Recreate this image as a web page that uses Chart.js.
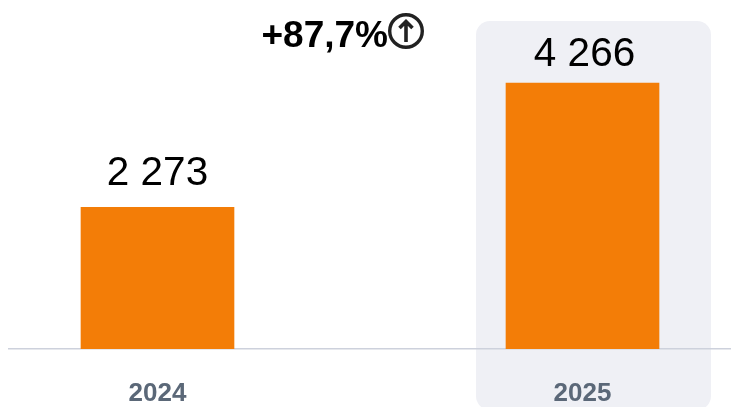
<!DOCTYPE html>
<html><head><meta charset="utf-8">
<script src="https://cdn.jsdelivr.net/npm/chart.js@4"></script>
<style>html,body{margin:0;padding:0;background:#fff;overflow:hidden}#w{position:relative;width:731px;height:407px}canvas{display:block}</style>
</head><body><div id="w"><canvas id="c" width="731" height="407"></canvas></div>
<script>
const categories = [2024, 2025];
const values = [2273, 4266];
const valueLabels = ['2 273', '4 266'];
const changeLabel = '+87,7%';
const highlighted = 2025;

const decor = {
  id: 'decor',
  beforeDraw(chart) {
    const c = chart.ctx, px = chart.scales.x.getPixelForValue(highlighted);
    c.save();
    c.fillStyle = '#eff0f5';
    c.beginPath();
    c.roundRect(px - 106.5, 21, 235, 389, 14);
    c.fill();
    c.restore();
  },
  afterDatasetsDraw(chart) {
    const c = chart.ctx, meta = chart.getDatasetMeta(0);
    const gaps = [22, 17], shifts = [0, 2];
    c.save();
    c.fillStyle = '#000';
    c.textAlign = 'center';
    c.textBaseline = 'alphabetic';
    c.font = '40.5px "Liberation Sans"';
    meta.data.forEach((el, i) => c.fillText(valueLabels[i], el.x + shifts[i], el.y - gaps[i]));
    c.font = 'bold 37px "Liberation Sans"';
    c.textAlign = 'left';
    c.fillText(changeLabel, 261.5, 47);
    c.strokeStyle = '#222';
    c.lineWidth = 3.4;
    c.beginPath(); c.arc(406, 31, 16.3, 0, Math.PI * 2); c.stroke();
    c.lineWidth = 3.6;
    c.beginPath(); c.moveTo(406, 42); c.lineTo(406, 22);
    c.moveTo(399.5, 28); c.lineTo(406, 21.5); c.lineTo(412.5, 28); c.stroke();
    c.restore();
  }
};

new Chart(document.getElementById('c'), {
  type: 'bar',
  data: { datasets: [{
    data: categories.map((x, i) => ({ x, y: values[i] })),
    backgroundColor: '#f37d07',
    borderWidth: 0,
    barThickness: 153
  }]},
  options: {
    responsive: false,
    animation: false,
    layout: { padding: { left: 9, right: 0, top: 0, bottom: 0 } },
    plugins: { legend: { display: false }, tooltip: { enabled: false } },
    scales: {
      x: {
        type: 'linear',
        offset: false,
        min: 2024 - 0.3494,
        max: 2025 + 0.3494,
        grid: { display: false, drawTicks: false },
        border: { display: true, color: '#cdd1dc', width: 1.5 },
        afterFit(s) { s.height = 58; },
        ticks: {
          stepSize: 1,
          includeBounds: false,
          padding: 29.5,
          maxRotation: 0,
          autoSkip: false,
          color: '#5b6878',
          font: { family: '"Liberation Sans"', weight: 'bold', size: 26 },
          callback: v => String(v)
        }
      },
      y: { display: false, min: 0, max: 5600 }
    }
  },
  plugins: [decor]
});
</script></body></html>
